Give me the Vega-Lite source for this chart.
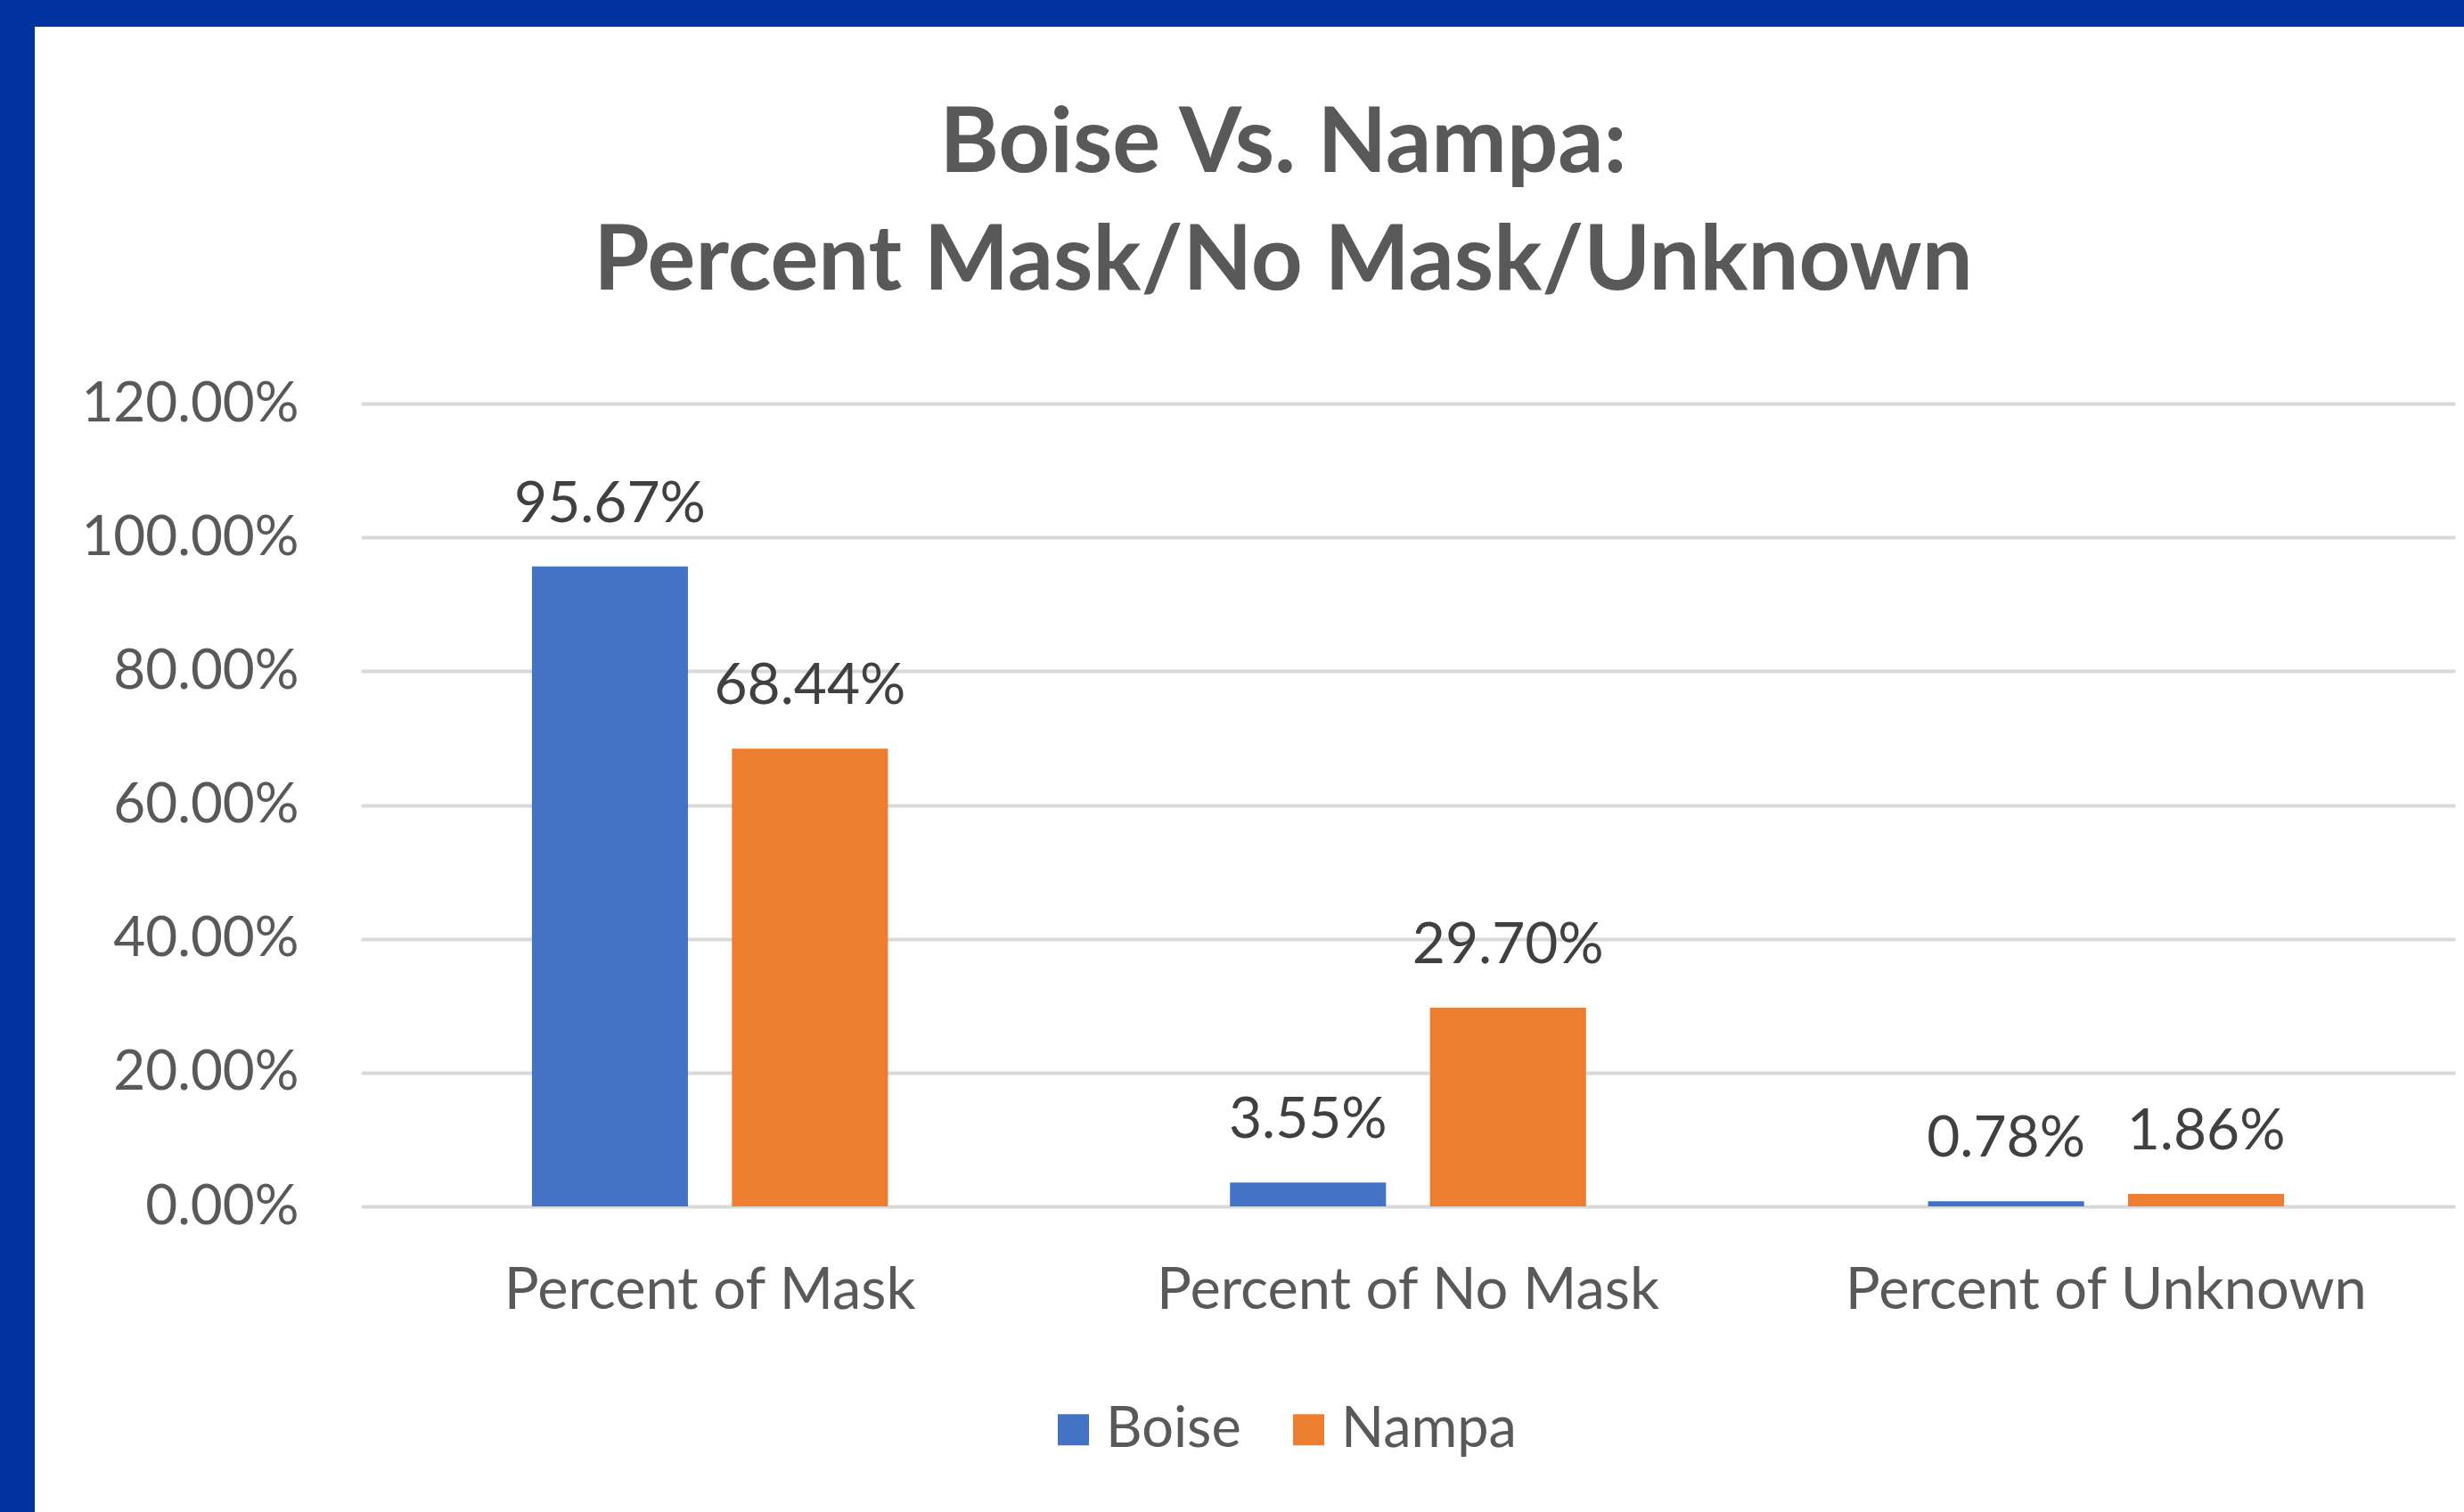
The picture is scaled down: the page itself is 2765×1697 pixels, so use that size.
{
  "$schema": "https://vega.github.io/schema/vega-lite/v6.json",
  "autosize": {"type": "none"},
  "padding": {"left": 39, "top": 30, "right": 0, "bottom": 0},
  "width": 2726,
  "height": 1667,
  "background": "#0033A0",
  "config": {
    "view": {"fill": "white", "stroke": null},
    "font": "Lato"
  },
  "title": {
    "text": ["Boise Vs. Nampa:", "Percent Mask/No Mask/Unknown"],
    "font": "Lato",
    "fontSize": 101,
    "fontWeight": "bold",
    "color": "#595959",
    "anchor": "middle",
    "lineHeight": 132,
    "offset": -316,
    "dx": 38
  },
  "data": {
    "values": [
      {"category": "Percent of Mask", "city": "Boise", "value": 0.9567},
      {"category": "Percent of Mask", "city": "Nampa", "value": 0.6844},
      {"category": "Percent of No Mask", "city": "Boise", "value": 0.0355},
      {"category": "Percent of No Mask", "city": "Nampa", "value": 0.2970},
      {"category": "Percent of Unknown", "city": "Boise", "value": 0.0078},
      {"category": "Percent of Unknown", "city": "Nampa", "value": 0.0186}
    ]
  },
  "encoding": {
    "x": {
      "field": "category",
      "type": "nominal",
      "sort": null,
      "scale": {"range": [366, 2716], "paddingInner": 0.49, "paddingOuter": 0.245},
      "axis": {
        "orient": "bottom",
        "offset": -343,
        "domain": false,
        "ticks": false,
        "title": null,
        "labelAngle": 0,
        "labelFont": "Lato",
        "labelFontSize": 65,
        "labelColor": "#595959",
        "labelPadding": 63,
        "labelLimit": 1000
      }
    },
    "xOffset": {"field": "city", "type": "nominal", "scale": {"paddingInner": 0.22}},
    "y": {
      "field": "value",
      "type": "quantitative",
      "scale": {"domain": [0, 1.2], "range": [1324, 423], "nice": false},
      "axis": {
        "orient": "left",
        "offset": -366,
        "values": [0, 0.2, 0.4, 0.6, 0.8, 1.0, 1.2],
        "format": ".2%",
        "domain": false,
        "ticks": false,
        "title": null,
        "grid": true,
        "gridColor": "#D9D9D9",
        "gridWidth": 4,
        "labelFont": "Lato",
        "labelFontSize": 62,
        "labelColor": "#595959",
        "labelPadding": 70,
        "labelLimit": 1000
      }
    }
  },
  "layer": [
    {
      "mark": {"type": "bar"},
      "encoding": {
        "color": {
          "field": "city",
          "type": "nominal",
          "scale": {"domain": ["Boise", "Nampa"], "range": ["#4472C4", "#ED7D31"]},
          "legend": {
            "orient": "none",
            "legendX": 1134,
            "legendY": 1543,
            "direction": "horizontal",
            "title": null,
            "symbolType": "square",
            "symbolSize": 1225,
            "symbolStrokeWidth": 0,
            "labelFont": "Lato",
            "labelFontSize": 63,
            "labelColor": "#595959",
            "labelLimit": 1000,
            "labelOffset": 5,
            "columnPadding": 44
          }
        }
      }
    },
    {
      "mark": {"type": "text", "baseline": "middle", "dy": -69, "font": "Lato", "fontSize": 64, "color": "#404040"},
      "encoding": {
        "text": {"field": "value", "type": "quantitative", "format": ".2%"}
      }
    }
  ]
}
